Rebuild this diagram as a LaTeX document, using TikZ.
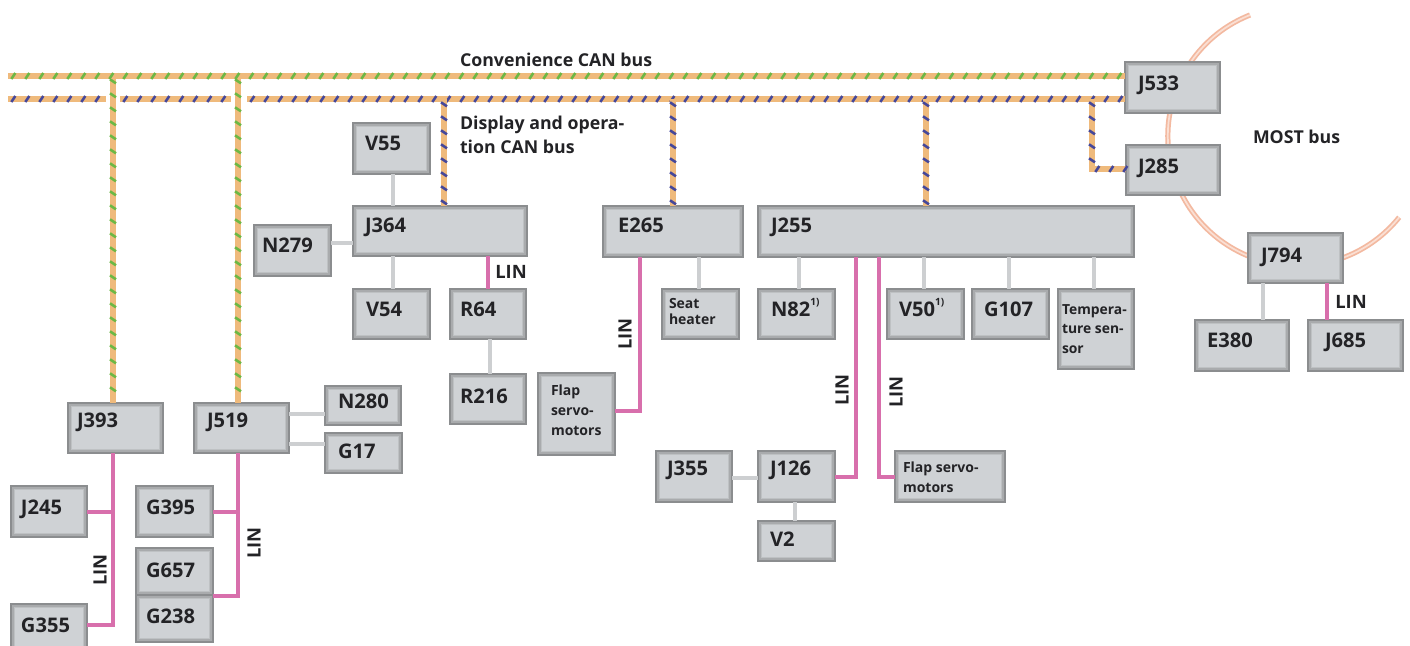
\documentclass[tikz,border=0pt]{standalone}
\usepackage{fontspec}
\setmainfont{Open Sans}[UprightFont=* Bold]
\usetikzlibrary{decorations.markings}
\definecolor{boxfill}{HTML}{CFD2D5}
\definecolor{boxedge}{HTML}{8B8D8F}
\definecolor{boxin}{HTML}{A9ABAD}
\definecolor{boxmid}{HTML}{BEC1C3}
\definecolor{twist}{HTML}{EFBA7C}
\definecolor{cgreen}{HTML}{6CB845}
\definecolor{cblue}{HTML}{45479A}
\definecolor{linpink}{HTML}{D86FAC}
\definecolor{linkgrey}{HTML}{CDCFD1}
\definecolor{ringo}{HTML}{F3B9A0}
\definecolor{ringi}{HTML}{FADFD3}
\definecolor{txt}{HTML}{232326}
\tikzset{
  boxs/.style={rectangle,draw=boxedge,line width=.9pt,fill=boxfill,inner sep=0pt,outer sep=0pt,
    path picture={
      \draw[boxmid,line width=6.5pt] (path picture bounding box.south west) rectangle (path picture bounding box.north east);
      \draw[boxin,line width=3.8pt] (path picture bounding box.south west) rectangle (path picture bounding box.north east);
    }},
  lab/.style={anchor=base west,inner sep=0pt,outer sep=0pt,text=txt},
  labL/.style={lab,font=\fontsize{15.1}{18}\selectfont},
  labM/.style={lab,font=\fontsize{13.3}{16}\selectfont},
  labS/.style={lab,font=\fontsize{10.5}{13}\selectfont},
  labT/.style={lab,font=\fontsize{10.4}{13}\selectfont},
  linlab/.style={inner sep=0pt,outer sep=0pt,text=txt,font=\fontsize{13.8}{16}\selectfont},
  grey link/.style={linkgrey,line width=3pt},
  lin link/.style={linpink,line width=3pt,line join=miter},
  twisted/.style={twist,line width=4.5pt,line join=miter,
    postaction={decorate,decoration={markings,
      mark=between positions 4pt and 1 step 10.5pt with {
        \draw[#1,line width=1.9pt] (-1.5pt,-2.25pt)--(1.5pt,2.25pt);
      }}}},
}
\newcommand\bx[5]{\node[boxs,minimum width={(#4-#2)*.75pt},minimum height={(#5-#3)*.75pt}] (#1) at ({(#2+#4)/2},{(#3+#5)/2}) {};}
\newcommand\tx[5]{\node[#4] (#1) at (#2,#3) {#5};}
\newcommand\supone{\raisebox{.5em}{\fontsize{7.5}{8}\selectfont 1)}}
\begin{document}
\begin{tikzpicture}[x=.75pt,y=-.75pt]
\useasboundingbox (0,0) rectangle (1410,646);
\clip (0,0) rectangle (1410,646);
\fill[white] (0,0) rectangle (1410,646);
% MOST ring
\coordinate (ringstart) at (1250,15);
\draw[ringo,line width=3.9pt] (ringstart) arc[start angle=111.6,end angle=321.2,radius=97.5pt];
\draw[ringi,line width=1.3pt] (ringstart) arc[start angle=111.6,end angle=321.2,radius=97.5pt];
% boxes
\bx{J533}{1125}{62}{1220}{113}
\bx{J285}{1126}{145}{1220}{195}
\bx{J794}{1248}{233}{1343}{283}
\bx{E380}{1195}{320}{1289}{371}
\bx{J685}{1308}{320}{1403}{371}
\bx{J393}{68}{403}{163}{453}
\bx{J519}{194}{403}{289}{453}
\bx{N280}{325}{386}{401}{425}
\bx{G17}{325}{433}{402}{473}
\bx{J245}{11}{486}{87}{537}
\bx{G395}{136}{486}{213}{537}
\bx{G657}{136}{548}{213}{595}
\bx{G238}{136}{595}{213}{642}
\bx{G355}{11}{604}{87}{655}
\bx{E265}{603}{206}{743}{257}
\bx{J255}{758}{206}{1134}{257}
\bx{Seat}{662}{289}{739}{339}
\bx{N82}{758}{289}{835}{339}
\bx{V50}{887}{289}{964}{339}
\bx{G107}{972}{289}{1049}{339}
\bx{Temp}{1058}{289}{1134}{369}
\bx{FlapA}{538}{373}{615}{455}
\bx{V55}{353}{123}{430}{174}
\bx{J364}{353}{206}{527}{256}
\bx{N279}{254}{225}{331}{276}
\bx{V54}{353}{289}{430}{339}
\bx{R64}{450}{289}{526}{339}
\bx{R216}{450}{374}{526}{424}
\bx{J355}{656}{451}{732}{502}
\bx{J126}{758}{451}{835}{502}
\bx{V2}{758}{521}{835}{561}
\bx{FlapB}{895}{451}{1005}{502}
% labels
\tx{tJ533}{1138}{90}{labL}{J533}
\tx{tJ285}{1138}{173}{labL}{J285}
\tx{tJ794}{1261}{262}{labL}{J794}
\tx{tE380}{1207}{347}{labL}{E380}
\tx{tJ685}{1325}{347}{labL}{J685}
\tx{tJ393}{77}{427}{labL}{J393}
\tx{tJ519}{207}{427}{labL}{J519}
\tx{tN280}{338}{408}{labL}{N280}
\tx{tG17}{338}{458}{labL}{G17}
\tx{tJ245}{21}{514}{labL}{J245}
\tx{tG395}{146}{514}{labL}{G395}
\tx{tG657}{146}{577}{labL}{G657}
\tx{tG238}{146}{623}{labL}{G238}
\tx{tG355}{21}{632}{labL}{G355}
\tx{tE265}{618}{232}{labL}{E265}
\tx{tJ255}{771}{232}{labL}{J255}
\tx{tSeat}{669}{308}{labS}{\vtop{\baselineskip=12.7pt\hbox{Seat}\hbox{heater}}}
\tx{tN82}{771}{316}{labL}{N82\supone}
\tx{tV50}{899}{316}{labL}{V50\supone}
\tx{tG107}{984}{316}{labL}{G107}
\tx{tTemp}{1062}{314}{labT}{\vtop{\baselineskip=14.7pt\hbox{Tempera-}\hbox{ture sen-}\hbox{sor}}}
\tx{tFlapA}{551}{395}{labS}{\vtop{\baselineskip=15pt\hbox{Flap}\hbox{servo-}\hbox{motors}}}
\tx{tV55}{365}{150}{labL}{V55}
\tx{tJ364}{365}{232}{labL}{J364}
\tx{tN279}{262}{252}{labL}{N279}
\tx{tV54}{366}{316}{labL}{V54}
\tx{tR64}{460}{316}{labL}{R64}
\tx{tR216}{460}{403}{labL}{R216}
\tx{tJ355}{667}{475}{labL}{J355}
\tx{tJ126}{770}{475}{labL}{J126}
\tx{tV2}{770}{546}{labL}{V2}
\tx{tFlapB}{903}{472}{labS}{\vtop{\baselineskip=15pt\hbox{Flap servo-}\hbox{motors}}}
\tx{tConv}{460}{66}{labM}{Convenience CAN bus}
\tx{tDisp}{460}{129}{labM}{\vtop{\baselineskip=18.5pt\hbox{Display and opera-}\hbox{tion CAN bus}}}
\tx{tMost}{1253}{143}{labM}{MOST bus}
% buses
\coordinate (gL) at (8,76);
\coordinate (bLa) at (8,99);
\coordinate (bLb) at (106,99);
\coordinate (bMa) at (120,99);
\coordinate (bMb) at (231,99);
\coordinate (bRa) at (247,99);
\draw[twisted=cblue] (bLa) -- (bLb);
\draw[twisted=cblue] (bMa) -- (bMb);
\draw[twisted=cblue] (bRa) -- (J533.west |- bRa);
\draw[twisted=cblue] (bRa -| 444,0) -- (J364.north -| 444,0);
\draw[twisted=cblue] (bRa -| 673,0) -- (E265.north -| 673,0);
\draw[twisted=cblue] (bRa -| 926,0) -- (J255.north -| 926,0);
\draw[twisted=cblue] (bRa -| 1092,0) -- (1092,169) -- (J285.west |- 0,169);
\draw[twisted=cgreen] (gL -| 113,0) -- (J393.north -| 113,0);
\draw[twisted=cgreen] (gL -| 238,0) -- (J519.north -| 238,0);
\draw[twisted=cgreen] (gL) -- (J533.west |- gL);
% grey links
\draw[grey link] (V55.south -| 393,0) -- (J364.north -| 393,0);
\draw[grey link] (N279.east |- 0,243) -- (J364.west |- 0,243);
\draw[grey link] (J364.south -| 393,0) -- (V54.north -| 393,0);
\draw[grey link] (R64.south -| 490,0) -- (R216.north -| 490,0);
\draw[grey link] (E265.south -| 699,0) -- (Seat.north -| 699,0);
\draw[grey link] (J255.south -| 799,0) -- (N82.north -| 799,0);
\draw[grey link] (J255.south -| 924,0) -- (V50.north -| 924,0);
\draw[grey link] (J255.south -| 1009,0) -- (G107.north -| 1009,0);
\draw[grey link] (J255.south -| 1094,0) -- (Temp.north -| 1094,0);
\draw[grey link] (J355.east |- 0,478) -- (J126.west |- 0,478);
\draw[grey link] (J126.south -| 795,0) -- (V2.north -| 795,0);
\draw[grey link] (J794.south -| 1263,0) -- (E380.north -| 1263,0);
\draw[grey link] (J519.east |- 0,414) -- (N280.west |- 0,414);
\draw[grey link] (J519.east |- 0,444) -- (G17.west |- 0,444);
% LIN links
\draw[lin link] (J393.south -| 113,0) -- (113,625) -- (G355.east |- 0,625);
\draw[lin link] (J245.east |- 0,512) -- (113,512);
\draw[lin link] (J519.south -| 238,0) -- (238,596) -- (G657.east |- 0,596);
\draw[lin link] (G395.east |- 0,512) -- (238,512);
\draw[lin link] (J364.south -| 488,0) -- (R64.north -| 488,0);
\draw[lin link] (E265.south -| 640,0) -- (640,411) -- (FlapA.east |- 0,411);
\draw[lin link] (J255.south -| 856,0) -- (856,477) -- (J126.east |- 0,477);
\draw[lin link] (J255.south -| 879,0) -- (879,477) -- (FlapB.west |- 0,477);
\draw[lin link] (J794.south -| 1327,0) -- (J685.north -| 1327,0);
% LIN labels
\node[linlab,rotate=90] (lin1) at (100,570) {LIN};
\node[linlab,rotate=90] (lin2) at (254,543) {LIN};
\node[linlab,rotate=90] (lin3) at (625,334) {LIN};
\node[linlab,rotate=90] (lin4) at (842,390) {LIN};
\node[linlab,rotate=90] (lin5) at (896,392) {LIN};
\node[linlab] (lin6) at (511,272) {LIN};
\node[linlab] (lin7) at (1351,302) {LIN};
\end{tikzpicture}
\end{document}
